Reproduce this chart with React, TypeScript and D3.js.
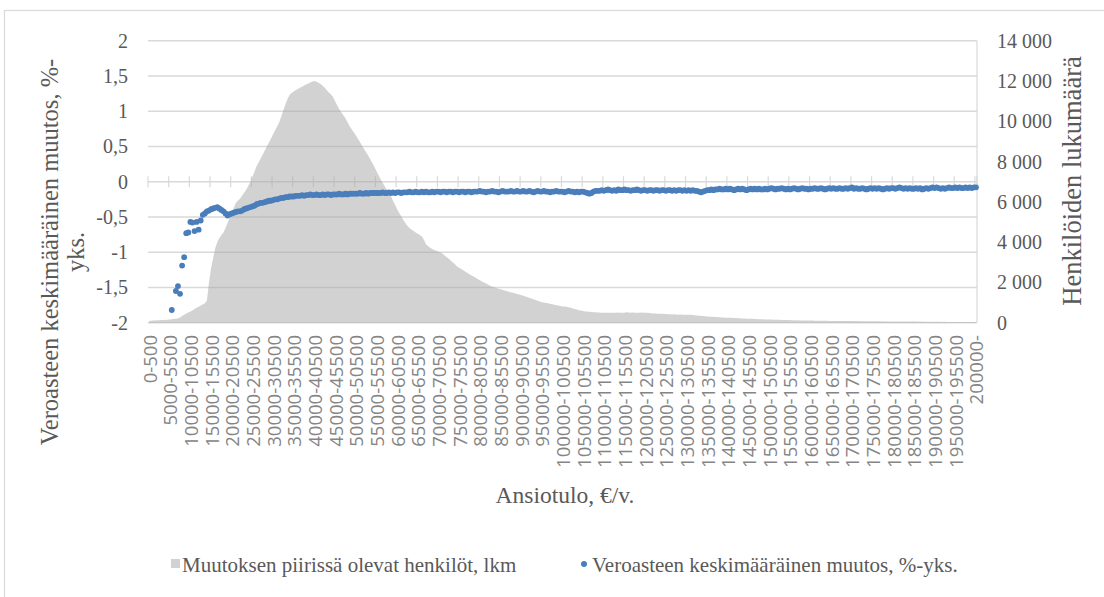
import React from "react";
import * as d3 from "d3";

// Income bins (500 € steps) and the open-ended last bin
const categories: string[] = [];
for (let i = 0; i < 400; i++) categories.push(`${i * 500}-${i * 500 + 500}`);
categories.push("200000-");

// Persons within the change (count), one value per income bin
const personCounts: number[] = [
  90, 100, 110, 110, 120, 120, 130, 130, 140, 150,
  160, 170, 190, 200, 220, 260, 330, 400, 460, 510,
  550, 600, 680, 740, 790, 850, 900, 960, 1100, 2000,
  2700, 3200, 3700, 4000, 4200, 4350, 4480, 4700, 4950, 5200,
  5450, 5700, 5950, 6050, 6150, 6300, 6450, 6600, 6800, 6980,
  7250, 7500, 7770, 7950, 8150, 8350, 8550, 8750, 8950, 9150,
  9350, 9550, 9750, 9950, 10250, 10550, 10850, 11100, 11300, 11420,
  11480, 11550, 11600, 11660, 11720, 11780, 11830, 11880, 11930, 11980,
  12000, 11960, 11910, 11850, 11760, 11660, 11540, 11430, 11330, 11200,
  11000, 10800, 10600, 10450, 10300, 10150, 9950, 9770, 9600, 9450,
  9300, 9130, 8970, 8800, 8620, 8460, 8300, 8120, 7930, 7730,
  7530, 7330, 7120, 6950, 6780, 6620, 6450, 6280, 6050, 5850,
  5630, 5450, 5280, 5100, 4950, 4800, 4700, 4620, 4550, 4480,
  4420, 4360, 4280, 4100, 3900, 3790, 3720, 3660, 3610, 3560,
  3520, 3490, 3420, 3340, 3250, 3170, 3080, 2990, 2900, 2790,
  2730, 2660, 2600, 2530, 2470, 2400, 2340, 2290, 2230, 2170,
  2110, 2050, 2000, 1950, 1880, 1830, 1790, 1760, 1720, 1690,
  1660, 1630, 1600, 1570, 1540, 1510, 1490, 1460, 1430, 1400,
  1370, 1340, 1300, 1270, 1230, 1200, 1160, 1130, 1090, 1050,
  1020, 1000, 980, 960, 940, 920, 890, 870, 850, 830,
  810, 800, 790, 770, 740, 710, 680, 650, 620, 600,
  580, 560, 550, 540, 530, 520, 520, 510, 510, 500,
  500, 500, 490, 500, 500, 490, 500, 510, 500, 490,
  500, 520, 510, 500, 510, 500, 490, 500, 510, 500,
  500, 490, 480, 470, 460, 460, 450, 440, 440, 430,
  430, 420, 420, 410, 420, 410, 400, 410, 400, 400,
  390, 400, 390, 380, 370, 360, 350, 340, 330, 320,
  310, 300, 300, 290, 280, 280, 270, 260, 260, 250,
  250, 240, 240, 230, 230, 220, 220, 210, 210, 200,
  200, 190, 190, 180, 180, 175, 170, 170, 165, 160,
  160, 155, 150, 150, 150, 145, 140, 140, 135, 130,
  130, 125, 125, 120, 120, 115, 115, 110, 110, 105,
  105, 105, 100, 100, 100, 100, 95, 95, 95, 90,
  90, 90, 90, 85, 85, 85, 85, 80, 80, 80,
  80, 80, 75, 80, 75, 75, 75, 75, 70, 75,
  70, 70, 70, 70, 65, 70, 65, 65, 65, 65,
  60, 65, 60, 60, 60, 60, 55, 60, 55, 55,
  55, 55, 50, 55, 50, 50, 50, 50, 45, 50,
  45, 45, 45, 45, 40, 45, 40, 40, 40, 40,
  40, 35, 40, 35, 35, 35, 35, 30, 35, 30,
  30,
];

// Average change of tax rate, %-points, one value per income bin (null = no marker)
const rateChange: (number | null)[] = [
  null, null, null, null, null, null, null, null, null, null,
  null, -1.82, null, -1.55, -1.48, -1.59, -1.19, -1.07, -0.73, -0.72,
  -0.57, -0.58, -0.70, -0.57, -0.68, -0.55, -0.47, -0.45, -0.42, -0.41,
  -0.39, -0.38, -0.37, -0.36, -0.38, -0.40, -0.42, -0.45, -0.48, -0.46,
  -0.45, -0.44, -0.43, -0.42, -0.42, -0.41, -0.39, -0.38, -0.37, -0.36,
  -0.35, -0.34, -0.32, -0.31, -0.30, -0.30, -0.29, -0.28, -0.27, -0.27,
  -0.26, -0.25, -0.25, -0.24, -0.23, -0.23, -0.22, -0.22, -0.21, -0.21,
  -0.21, -0.20, -0.20, -0.20, -0.19, -0.20, -0.19, -0.19, -0.18, -0.19,
  -0.19, -0.18, -0.19, -0.19, -0.18, -0.19, -0.18, -0.18, -0.19, -0.18,
  -0.18, -0.18, -0.17, -0.18, -0.18, -0.17, -0.18, -0.17, -0.17, -0.17,
  -0.17, -0.17, -0.16, -0.17, -0.17, -0.16, -0.17, -0.16, -0.16, -0.16,
  -0.16, -0.16, -0.16, -0.15, -0.16, -0.16, -0.15, -0.16, -0.15, -0.16,
  -0.15, -0.15, -0.16, -0.15, -0.15, -0.15, -0.14, -0.15, -0.15, -0.14,
  -0.15, -0.15, -0.14, -0.15, -0.14, -0.15, -0.15, -0.14, -0.15, -0.14,
  -0.14, -0.15, -0.14, -0.14, -0.15, -0.14, -0.14, -0.15, -0.14, -0.14,
  -0.15, -0.14, -0.14, -0.15, -0.14, -0.14, -0.15, -0.14, -0.14, -0.14,
  -0.13, -0.14, -0.14, -0.15, -0.14, -0.14, -0.13, -0.14, -0.14, -0.15,
  -0.14, -0.13, -0.14, -0.14, -0.14, -0.13, -0.14, -0.14, -0.13, -0.14,
  -0.14, -0.13, -0.14, -0.14, -0.13, -0.14, -0.15, -0.14, -0.13, -0.14,
  -0.14, -0.13, -0.14, -0.14, -0.15, -0.14, -0.14, -0.13, -0.14, -0.14,
  -0.14, -0.15, -0.14, -0.13, -0.14, -0.14, -0.15, -0.14, -0.15, -0.14,
  -0.14, -0.15, -0.16, -0.17, -0.16, -0.14, -0.13, -0.13, -0.13, -0.12,
  -0.13, -0.12, -0.11, -0.12, -0.13, -0.12, -0.13, -0.11, -0.12, -0.12,
  -0.11, -0.12, -0.12, -0.13, -0.12, -0.12, -0.11, -0.12, -0.13, -0.12,
  -0.12, -0.13, -0.12, -0.12, -0.13, -0.12, -0.12, -0.13, -0.12, -0.12,
  -0.13, -0.12, -0.12, -0.13, -0.12, -0.13, -0.12, -0.12, -0.13, -0.12,
  -0.13, -0.12, -0.13, -0.12, -0.13, -0.13, -0.14, -0.15, -0.14, -0.13,
  -0.12, -0.12, -0.11, -0.12, -0.11, -0.11, -0.10, -0.11, -0.11, -0.10,
  -0.11, -0.10, -0.11, -0.12, -0.11, -0.10, -0.11, -0.10, -0.11, -0.12,
  -0.11, -0.10, -0.11, -0.10, -0.11, -0.10, -0.11, -0.11, -0.10, -0.11,
  -0.10, -0.09, -0.10, -0.11, -0.10, -0.10, -0.09, -0.10, -0.11, -0.10,
  -0.11, -0.10, -0.09, -0.10, -0.11, -0.10, -0.09, -0.10, -0.10, -0.11,
  -0.10, -0.10, -0.09, -0.10, -0.10, -0.09, -0.10, -0.11, -0.10, -0.09,
  -0.10, -0.09, -0.10, -0.10, -0.09, -0.10, -0.10, -0.09, -0.10, -0.09,
  -0.08, -0.10, -0.09, -0.10, -0.10, -0.09, -0.10, -0.11, -0.10, -0.09,
  -0.10, -0.09, -0.10, -0.09, -0.10, -0.11, -0.10, -0.09, -0.10, -0.09,
  -0.09, -0.10, -0.09, -0.08, -0.09, -0.10, -0.09, -0.10, -0.09, -0.10,
  -0.10, -0.09, -0.10, -0.09, -0.11, -0.10, -0.09, -0.10, -0.09, -0.08,
  -0.09, -0.08, -0.09, -0.10, -0.09, -0.10, -0.09, -0.08, -0.09, -0.09,
  -0.08, -0.09, -0.08, -0.09, -0.09, -0.08, -0.09, -0.08, -0.09, -0.08,
  -0.08,
];

const leftTicks = [-2, -1.5, -1, -0.5, 0, 0.5, 1, 1.5, 2];
const rightTicks = [0, 2000, 4000, 6000, 8000, 10000, 12000, 14000];

const leftTitleLines = ["Veroasteen keskimääräinen muutos, %-", "yks."];
const rightTitle = "Henkilöiden lukumäärä";
const xTitle = "Ansiotulo, €/v.";
const legendArea = "Muutoksen piirissä olevat henkilöt, lkm";
const legendDots = "Veroasteen keskimääräinen muutos, %-yks.";

const W = 1104;
const H = 597;
const plotLeft = 148;
const plotRight = 977;
const plotTop = 40.7;
const plotBottom = 322.7;

const serif = "'Liberation Serif', 'Times New Roman', serif";
const sans = "'Open Sans', 'Noto Sans', sans-serif";
const grid = "#d9d9d9";
const textCol = "#595959";
const blue = "#4a7ebb";

export default function App() {
  const x = d3.scaleBand<string>().domain(categories).range([plotLeft, plotRight]).padding(0);
  const bw = x.bandwidth();
  const cx = (c: string) => (x(c) as number) + bw / 2;
  const yL = d3.scaleLinear().domain([-2, 2]).range([plotBottom, plotTop]);
  const yR = d3.scaleLinear().domain([0, 14000]).range([plotBottom, plotTop]);

  const fmtLeft = (v: number) => String(v).replace(".", ",");
  const fmtRight = (v: number) => d3.format(",")(v).replace(/,/g, " ");

  const areaGen = d3
    .area<number>()
    .x((_, i) => cx(categories[i]))
    .y0(yR(0))
    .y1((d) => yR(d));

  const zeroY = yL(0);
  const tickCats = categories.filter((_, i) => i % 10 === 0);
  const labelCats = categories.filter((_, i) => i % 10 === 0);

  const dots = rateChange
    .map((v, i) => ({ v, c: categories[i] }))
    .filter((d) => d.v !== null) as { v: number; c: string }[];

  const leftTitleCY = 252;

  return (
    <div style={{ position: "absolute", left: 0, top: 0 }}>
      <svg width={W} height={H} style={{ display: "block", background: "#fff" }}>
        <rect x={4.5} y={10.5} width={1200} height={700} fill="#fff" stroke="#d9d9d9" strokeWidth={1.2} />

        {/* gridlines */}
        {leftTicks.map((t) => (
          <line key={"g" + t} x1={plotLeft} x2={plotRight} y1={yL(t)} y2={yL(t)} stroke={grid} strokeWidth={1.4} />
        ))}
        <line x1={plotRight} x2={plotRight} y1={plotTop} y2={plotBottom} stroke={grid} strokeWidth={1.2} />

        {/* category axis ticks on zero line */}
        {tickCats.map((c) => (
          <line key={"t" + c} x1={x(c) as number} x2={x(c) as number} y1={zeroY - 5.5} y2={zeroY + 5.5} stroke={grid} strokeWidth={1.2} />
        ))}
        <line x1={plotRight} x2={plotRight} y1={zeroY - 5.5} y2={zeroY + 5.5} stroke={grid} strokeWidth={1.2} />

        {/* series area (secondary axis), semi-transparent so the grid shows through */}
        <path d={areaGen(personCounts) || ""} fill="#a6a6a6" fillOpacity={0.5} />

        {/* dots */}
        {dots.map((d) => (
          <circle key={"d" + d.c} cx={cx(d.c)} cy={yL(d.v)} r={2.9} fill={blue} />
        ))}

        {/* left ticks */}
        {leftTicks.map((t) => (
          <text key={"l" + t} x={128} y={yL(t)} dy="0.35em" textAnchor="end" fontFamily={serif} fontSize={20} fill={textCol}>
            {fmtLeft(t)}
          </text>
        ))}
        {/* right ticks */}
        {rightTicks.map((t) => (
          <text key={"r" + t} x={997} y={yR(t)} dy="0.35em" textAnchor="start" fontFamily={serif} fontSize={20} fill={textCol}>
            {fmtRight(t)}
          </text>
        ))}

        {/* category labels */}
        {labelCats.map((c) => (
          <text
            key={"c" + c}
            transform={`translate(${cx(c)},335) rotate(-90)`}
            textAnchor="end"
            dominantBaseline="central"
            fontFamily={sans}
            fontSize={18.5}
            fill="#858585"
          >
            {c}
          </text>
        ))}

        {/* axis titles */}
        <text transform={`translate(58,${leftTitleCY}) rotate(-90)`} textAnchor="middle" fontFamily={serif} fontSize={24.5} fill={textCol}>
          {leftTitleLines[0]}
        </text>
        <text transform={`translate(84,${leftTitleCY}) rotate(-90)`} textAnchor="middle" fontFamily={serif} fontSize={24.5} fill={textCol}>
          {leftTitleLines[1]}
        </text>
        <text transform={`translate(1081,181) rotate(-90)`} textAnchor="middle" fontFamily={serif} fontSize={26.5} fill={textCol}>
          {rightTitle}
        </text>
        <text x={565} y={503} textAnchor="middle" fontFamily={serif} fontSize={23.5} fill={textCol}>
          {xTitle}
        </text>

        {/* legend */}
        <rect x={171} y={559} width={9} height={9} fill="#a6a6a6" fillOpacity={0.5} />
        <text x={182} y={572} fontFamily={serif} fontSize={21} fill={textCol}>
          {legendArea}
        </text>
        <circle cx={584} cy={564} r={3} fill={blue} />
        <text x={592} y={572} fontFamily={serif} fontSize={21} fill={textCol}>
          {legendDots}
        </text>
      </svg>
    </div>
  );
}
